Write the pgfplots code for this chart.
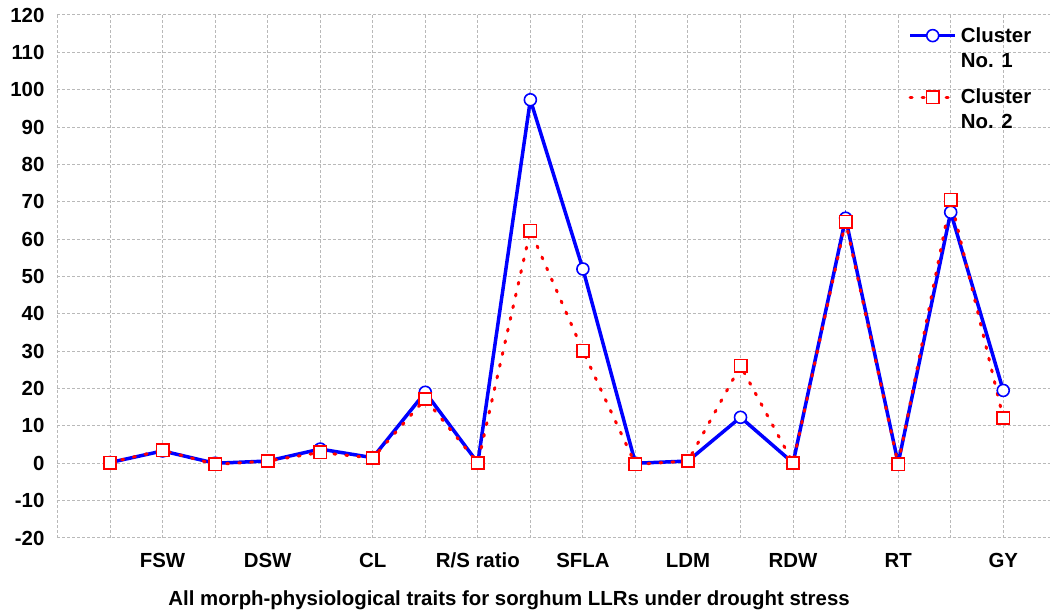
\documentclass[border=0pt]{standalone}
\usepackage{pgfplots}
\pgfplotsset{compat=1.18}
\usepackage{pgfplotstable}
\usepackage{fontspec}
\setmainfont{Liberation Sans}
\definecolor{cblue}{RGB}{0,0,255}
\definecolor{cred}{RGB}{255,0,0}
\definecolor{gridgray}{RGB}{185,185,185}
\pgfplotstableread{
x c1 c2
1 0.2 0.2
2 3.3 3.5
3 0.0 -0.3
4 0.6 0.6
5 3.8 2.9
6 1.5 1.4
7 19.0 17.2
8 0.1 0.1
9 97.3 62.3
10 52.0 30.1
11 0.0 -0.3
12 0.6 0.6
13 12.3 26.1
14 0.1 0.1
15 65.6 64.7
16 0.0 -0.3
17 67.2 70.6
18 19.5 12.1
}\datatable
\begin{document}
\begin{tikzpicture}
\begin{axis}[
  scale only axis,
  width=496.25pt, height=261.5pt,
  xmin=0, xmax=18.89,
  ymin=-20, ymax=120,
  ytick={-20,-10,...,120},
  xtick={0,1,...,18},
  xticklabels={,,FSW,,DSW,,CL,,R/S ratio,,SFLA,,LDM,,RDW,,RT,,GY},
  major tick length=0pt,
  axis line style={draw=none},
  grid=major,
  major grid style={gridgray, line width=0.5pt, dash pattern=on 1.5pt off 1pt},
  /pgf/number format/assume math mode=true,
  tick label style={font=\fontsize{10.2}{12}\selectfont\bfseries},
  yticklabel style={xshift=-3pt},
  xticklabel style={text height=7.2pt, text depth=0pt, yshift=-4.2pt},
  xlabel={All morph-physiological traits for sorghum LLRs under drought stress},
  xlabel style={at={(axis description cs:0.455,0)}, anchor=base, yshift=-34pt, font=\fontsize{10.2}{12}\selectfont\bfseries},
  clip=false,
  legend image code/.code={\draw[mark repeat=2,mark phase=2,yshift=6.5pt] plot coordinates {(0pt,0pt) (11.25pt,0pt) (22.5pt,0pt)};},
  legend style={at={(axis description cs:0.857,0.985)}, anchor=north west, draw=none, fill=none,
    inner sep=0pt, row sep=5.5pt, font=\fontsize{10.2}{12.5}\selectfont\bfseries,
    cells={anchor=west, align=left}},
]
\addplot[cblue, line width=1.75pt, mark=*, mark size=3pt,
  mark options={solid, fill=white, draw=cblue, line width=0.8pt}] table[x=x, y=c1] {\datatable};
\addlegendentry{Cluster\\No. 1}
\addplot[cred, line width=1.5pt, line cap=round, dash pattern=on 1pt off 5pt, mark=square*, mark size=3.1pt,
  mark options={solid, fill=white, draw=cred, line width=0.8pt}] table[x=x, y=c2] {\datatable};
\addlegendentry{Cluster\\No. 2}
\end{axis}
\pgfresetboundingbox
\path (-28.75pt,-37.5pt) rectangle (496.25pt,269pt);
\end{tikzpicture}
\end{document}
